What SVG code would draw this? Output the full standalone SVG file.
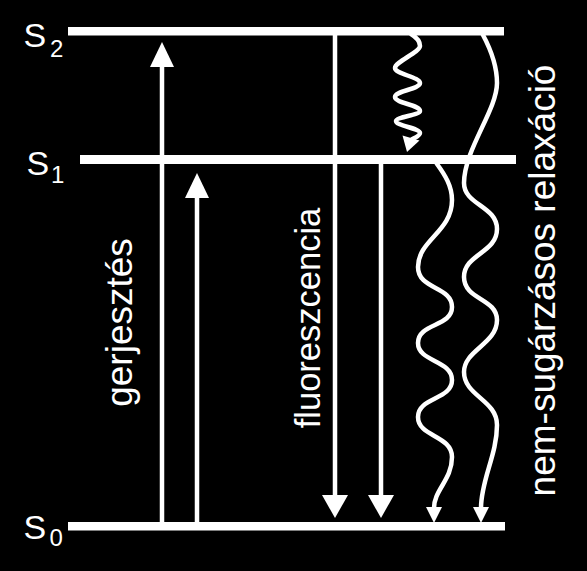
<svg xmlns="http://www.w3.org/2000/svg" width="587" height="571" viewBox="0 0 587 571">
<style>
.lvl{fill:#fff}
.lbl{font-family:"Liberation Sans",Arial,sans-serif;fill:#fff}
.big{font-size:34px}
.sub{font-size:24px}
.rot{font-family:"Liberation Sans",Arial,sans-serif;fill:#fff;text-anchor:middle}
.shaft{stroke:#fff;stroke-width:4.5;fill:none}
.wave{stroke:#fff;stroke-width:4.5;fill:none;stroke-linecap:round;stroke-linejoin:round}
.head{fill:#fff}
</style>
<rect x="0" y="0" width="587" height="571" fill="#000"/>
<g id="S2">
<rect class="lvl" x="68" y="27" width="436" height="8.5"/>
<text class="lbl big" x="23.5" y="47">S</text>
<text class="lbl sub" x="50" y="57">2</text>
</g>
<g id="S1">
<rect class="lvl" x="80" y="155" width="436" height="9"/>
<text class="lbl big" x="26.5" y="175">S</text>
<text class="lbl sub" x="51" y="183">1</text>
</g>
<g id="S0">
<rect class="lvl" x="68" y="522" width="437" height="8.5"/>
<text class="lbl big" x="23.5" y="539">S</text>
<text class="lbl sub" x="49.5" y="546">0</text>
</g>
<g id="label-gerjesztes">
<text class="rot" font-size="37" transform="translate(132,322.5) rotate(-90)">gerjesztés</text>
</g>
<g id="label-fluoreszcencia">
<text class="rot" font-size="34.5" transform="translate(320,318) rotate(-90)">fluoreszcencia</text>
</g>
<g id="label-relaxacio">
<text class="rot" font-size="37" transform="translate(555,280.5) rotate(-90)">nem-sugárzásos relaxáció</text>
</g>
<g id="connectors">
<line class="shaft" x1="162" y1="526" x2="162" y2="64"/>
<polygon class="head" points="162,42 150,67 174,67"/>
<line class="shaft" x1="197" y1="526" x2="197" y2="195"/>
<polygon class="head" points="197,173 185,198 209,198"/>
<line class="shaft" x1="335" y1="31" x2="335" y2="498"/>
<polygon class="head" points="335,518 322,495 348,495"/>
<line class="shaft" x1="381" y1="160" x2="381" y2="498"/>
<polygon class="head" points="381,518 368,495 394,495"/>
<path class="wave" d="M411,34 C416,37 420,41 420,46 C420,52 395,62 395,68 C395,74 420,77 420,83 C420,89 395,91 395,97 C395,103 420,105 420,111 C420,115 396,117 396,121 C396,126 420,128 420,133 C420,136 414,138 411,140"/>
<polygon class="head" points="402.5,135.5 419.5,140.5 407,152"/>
<path class="wave" d="M437,164 C445,175 452,186 452,200 C452,232 418,240 418,267 C418,290 452,286 452,307 C452,327 418,323 418,343 C418,362 452,360 452,380 C452,400 418,397 418,417 C418,437 452,435 452,457 C452,480 434,490 434,508"/>
<polygon class="head" points="434,523 426,507 442,507"/>
<path class="wave" d="M483,35 C491,50 497,66 497,83 C497,110 464,150 464,183 C464,205 497,206 497,229 C497,253 464,254 464,277 C464,300 497,298 497,320 C497,344 464,350 464,372 C464,396 497,400 497,425 C497,455 481,480 481,508"/>
<polygon class="head" points="481,523 473,507 489,507"/>
</g>
</svg>
